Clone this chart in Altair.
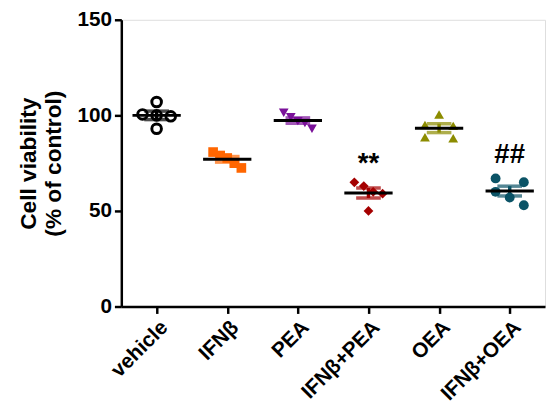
import json
import altair as alt
import pandas as pd

groups = ["vehicle", "IFNβ", "PEA", "IFNβ+PEA", "OEA", "IFNβ+OEA"]
vehicle = [107, 100.5, 100, 99.5, 93]
ifn = [80.8, 79, 77.7, 75, 72.5]
pea = [101.4, 99, 97, 96, 93]
ifn_pea = [65, 63, 60, 59, 50]
oea = [100.5, 95, 94.5, 88.5, 88]
ifn_oea = [67, 65, 60, 57, 53]
series = [vehicle, ifn, pea, ifn_pea, oea, ifn_oea]

colors = ["#000000", "#FF6600", "#7A1199", "#A50000", "#8C8C00", "#0B5366"]
shapes = ["circle", "square", "triangle-down", "diamond", "triangle-up", "circle"]
sizes = [95, 100, 150, 130, 150, 115]

ann_text = ["**", "##"]
ann_group = ["IFNβ+PEA", "IFNβ+OEA"]
ann_y = [74.5, 79.0]

FONT = "Liberation Sans"
SPREAD = 0.40  # horizontal dodge width (in category units) for close points
THRESH = 4.5   # values closer than this are dodged side by side


def dodge(vals):
    order = sorted(range(len(vals)), key=lambda i: -vals[i])
    clusters, cur = [], [order[0]]
    for i in order[1:]:
        if vals[cur[-1]] - vals[i] < THRESH:
            cur.append(i)
        else:
            clusters.append(cur)
            cur = [i]
    clusters.append(cur)
    off = [0.0] * len(vals)
    for c in clusters:
        n = len(c)
        if n == 1:
            continue
        step = SPREAD / (n - 1)
        for k, i in enumerate(c):
            off[i] = -SPREAD / 2 + k * step
    return off


rows = []
for gi, (g, vals) in enumerate(zip(groups, series)):
    offs = dodge(vals)
    for v, o in zip(vals, offs):
        rows.append({"group": g, "gi": gi, "xpos": gi + o, "value": v})
df = pd.DataFrame(rows)
ann = pd.DataFrame({"text": ann_text, "gi": [groups.index(g) for g in ann_group], "y": ann_y})

xscale = alt.Scale(domain=[-0.5, len(groups) - 0.5], nice=False, zero=False)
yscale = alt.Scale(domain=[0, 150], nice=False)
cscale = alt.Scale(domain=groups, range=colors)
label_expr = json.dumps(groups, ensure_ascii=False) + "[datum.value]"
YTITLE = ["Cell viability", "(% of control)"]

x_axis = alt.Axis(values=list(range(len(groups))), labelExpr=label_expr,
                  labelAngle=315, labelAlign="right", labelBaseline="top", labelOverlap=False,
                  labelFontSize=21, labelFontWeight="bold", labelFont=FONT,
                  labelPadding=3, tickSize=7, tickWidth=2.5, domainWidth=2.5,
                  domainColor="black", tickColor="black", labelColor="black", grid=False)
y_axis = alt.Axis(values=[0, 50, 100, 150],
                  titleFontSize=23, titleFontWeight="bold", titleFont=FONT, titleColor="black",
                  titlePadding=12, labelFontSize=21, labelFontWeight="bold", labelFont=FONT,
                  labelPadding=3, tickSize=7, tickWidth=2.5, domainWidth=2.5,
                  domainColor="black", tickColor="black", labelColor="black", grid=False)


def X(field):
    return alt.X(field, scale=xscale, axis=x_axis, title=None)


def Y(field):
    return alt.Y(field, scale=yscale, axis=y_axis, title=YTITLE)


base = alt.Chart(df)

open_pts = base.transform_filter(alt.datum.group == groups[0]).mark_point(
    filled=False, shape="circle", size=sizes[0], strokeWidth=3, color=colors[0], opacity=1
).encode(x=X("xpos:Q"), y=Y("value:Q"))

filled_pts = base.transform_filter(alt.datum.group != groups[0]).mark_point(
    filled=True, opacity=1
).encode(
    x=X("xpos:Q"),
    y=Y("value:Q"),
    color=alt.Color("group:N", scale=cscale, legend=None),
    shape=alt.Shape("group:N", scale=alt.Scale(domain=groups, range=shapes), legend=None),
    size=alt.Size("group:N", scale=alt.Scale(domain=groups, range=sizes), legend=None),
)

err = base.mark_errorbar(extent="stderr", ticks=True, size=25, thickness=3.5, orient="vertical").encode(
    x=X("gi:Q"),
    y=Y("value:Q"),
    color=alt.Color("group:N", scale=cscale, legend=None),
)

mean = base.mark_tick(orient="horizontal", size=49, thickness=3, color="black", opacity=1).encode(
    x=X("gi:Q"),
    y=Y("mean(value):Q"),
)

text = alt.Chart(ann).mark_text(fontSize=28, fontWeight="bold", font=FONT, color="black",
                                baseline="middle", align="center").encode(
    x=X("gi:Q"), y=Y("y:Q"), text="text:N")

chart = alt.layer(open_pts, filled_pts, err, mean, text).properties(
    width=430, height=291,
    autosize=alt.AutoSizeParams(type="none"),
    padding={"left": 115, "top": 9, "right": 1, "bottom": 98},
).configure_view(stroke=None).configure(font=FONT)

chart.save("out.html", embed_options={"renderer": "svg", "actions": False})
